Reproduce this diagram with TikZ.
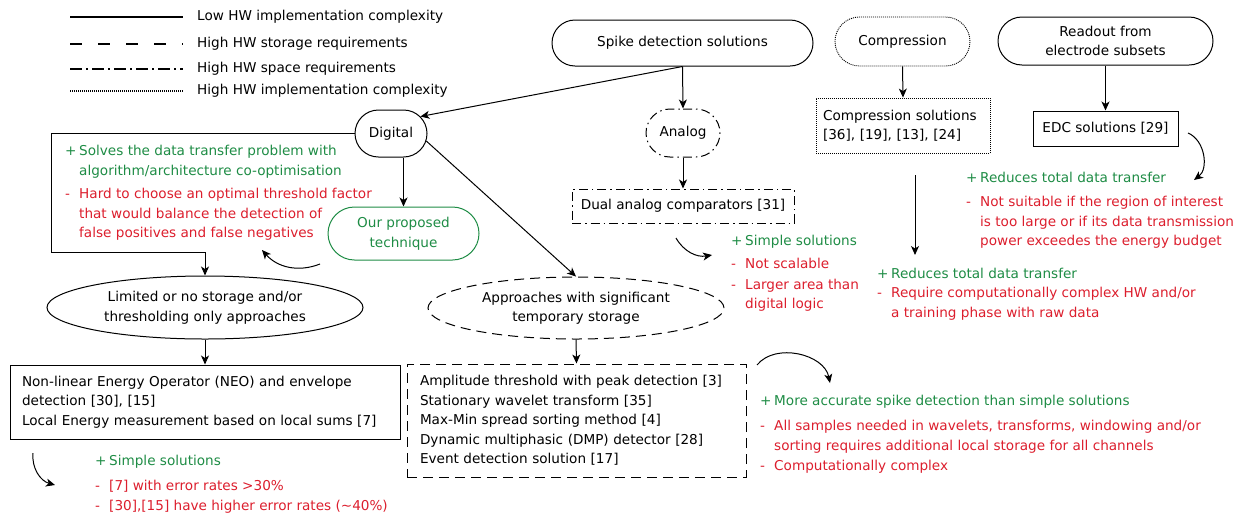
\documentclass[tikz,border=0pt]{standalone}
\usepackage{fontspec}
\setmainfont{DejaVu Sans}
\usepackage{tikz}
\usetikzlibrary{positioning,arrows.meta,shapes.geometric,shapes.misc}
\definecolor{progreen}{HTML}{1E8C45}
\definecolor{conred}{HTML}{DC1E2D}
\newcommand{\pl}{\makebox[14pt][l]{+}}
\newcommand{\mi}{\makebox[14pt][l]{-}}
\newcommand{\ind}{\hspace*{14pt}}
\tikzset{
    every node/.style={font=\fontsize{13.6}{19.5}\selectfont},
    every edge/.style={draw,solid,->,>={Stealth[length=9pt,width=8pt,inset=2.5pt]},line width=1pt},
    flow/.style={draw,->,>={Stealth[length=9pt,width=8pt,inset=2.5pt]},line width=1pt},
    term/.style={rounded rectangle,draw,line width=1pt,inner sep=2pt,align=center},
    oval/.style={ellipse,draw,line width=1pt,inner sep=0pt,align=center},
    block/.style={rectangle,draw,line width=1pt,align=left},
    storereq/.style={dash pattern=on 10pt off 6pt},
    spacereq/.style={dash pattern=on 9pt off 4pt on 1.5pt off 4pt},
    complexhw/.style={line width=0.9pt,dash pattern=on 1pt off 1pt},
    pro/.style={text=progreen,align=left,anchor=north west,inner sep=0pt},
    con/.style={text=conred,align=left,anchor=north west,inner sep=0pt},
    legtext/.style={anchor=west,inner sep=0pt},
    legline/.style={line width=2.4pt},
}

\begin{document}
\begin{tikzpicture}[x=1pt,y=-1pt]
    \useasboundingbox (0,0) rectangle (1247,515);

    % legend
    \node[legtext] (leglow) at (197,17) {Low HW implementation complexity};
    \node[legtext] (legstore) at (197,44) {High HW storage requirements};
    \node[legtext] (legspace) at (197,69) {High HW space requirements};
    \node[legtext] (leghigh) at (197,91) {High HW implementation complexity};
    \draw[legline] ([xshift=-127pt]leglow.west) -- ++(113,0);
    \draw[legline,dash pattern=on 12pt off 16pt] ([xshift=-127pt]legstore.west) -- ++(113,0);
    \draw[legline,dash pattern=on 12pt off 4pt on 2pt off 4pt] ([xshift=-127pt]legspace.west) -- ++(113,0);
    \draw[line width=1.5pt,dash pattern=on 1pt off 1pt] ([xshift=-127pt]leghigh.west) -- ++(113,0);

    % top level
    \node[term,minimum width=265pt,minimum height=46pt] (spike) at (682.5,43) {Spike detection solutions};
    \node[term,complexhw,minimum width=139pt,minimum height=49pt] (compr) at (902.5,41.5) {Compression};
    \node[term,minimum width=219pt,minimum height=48pt] (readout) at (1105.5,41) {Readout from\\electrode subsets};

    \node[term,minimum width=76pt,minimum height=47pt] (digital) at (391,133.5) {Digital};
    \node[term,spacereq,minimum width=78pt,minimum height=48pt] (analog) at (683,133) {Analog};
    \node[block,spacereq,minimum width=222pt,minimum height=34pt,align=center] (dual) at (683,206) {Dual analog comparators [31]};
    \node[block,complexhw,text width=160pt,inner xsep=7pt,minimum height=55pt] (comprsol) at (903,125.5) {Compression solutions\\{[36], [19], [13], [24]}};
    \node[block,minimum width=145pt,minimum height=35pt,align=center] (edc) at (1105.5,128.5) {EDC solutions [29]};

    \node[term,draw=progreen,text=progreen,minimum width=155pt,minimum height=53pt] (ours) at (403.5,233.5) {Our proposed\\technique};
    \node[oval,minimum width=316pt,minimum height=63pt] (limited) at (205,307.5) {Limited or no storage and/or\\thresholding only approaches};
    \node[oval,storereq,minimum width=296pt,minimum height=62pt] (approach) at (576,308) {Approaches with significant\\temporary storage};

    \node[block,text width=366pt,inner xsep=12pt,minimum height=74pt] (neo) at (205,402) {Non-linear Energy Operator (NEO) and envelope\\detection [30], [15]\\Local Energy measurement based on local sums [7]};
    \node[block,storereq,text width=313pt,inner xsep=13pt,minimum height=113pt] (temp) at (576.5,420.5) {Amplitude threshold with peak detection [3]\\Stationary wavelet transform [35]\\Max-Min spread sorting method [4]\\Dynamic multiphasic (DMP) detector [28]\\Event detection solution [17]};

    % pros and cons
    \node[pro] (digpro) at (65,145) {\pl Solves the data transfer problem with\\\ind algorithm/architecture co-optimisation};
    \node[con] (digcon) at (65,188) {\mi Hard to choose an optimal threshold factor\\\ind that would balance the detection of\\\ind false positives and false negatives};
    \node[pro] (anapro) at (731,235) {\pl Simple solutions};
    \node[con] (anacon) at (731,258) {\mi Not scalable\\[1pt]\mi Larger area than\\\ind digital logic};
    \node[pro] (edcpro) at (966,172) {\pl Reduces total data transfer};
    \node[con] (edccon) at (966,196) {\mi Not suitable if the region of interest\\\ind is too large or if its data transmission\\\ind power exceedes the energy budget};
    \node[pro] (cmppro) at (877,268) {\pl Reduces total data transfer};
    \node[con] (cmpcon) at (877,287) {\mi Require computationally complex HW and/or\\\ind a training phase with raw data};
    \node[pro] (neopro) at (95,455) {\pl Simple solutions};
    \node[con] (neocon) at (95,480) {\mi [7] with error rates >30\%\\\mi [30],[15] have higher error rates (\textasciitilde40\%)};
    \node[pro] (tmppro) at (760,395) {\pl More accurate spike detection than simple solutions};
    \node[con] (tmpcon) at (760,420) {\mi All samples needed in wavelets, transforms, windowing and/or\\\ind sorting requires additional local storage for all channels\\[1pt]\mi Computationally complex};

    % free ends of the side arrows
    \coordinate (oursout) at (320,264);
    \coordinate (digin) at (262,250);
    \coordinate (dualout) at (676,238);
    \coordinate (anain) at (712,255);
    \coordinate (edcout) at (1188,133);
    \coordinate (edcin) at (1194,180);
    \coordinate (neoout) at (33,453);
    \coordinate (neoin) at (55,485);
    \coordinate (tempout) at (757,365);
    \coordinate (tempin) at (830,383);
    \coordinate (cmpout) at (915,175);
    \coordinate (cmpin) at (915,255);
    \coordinate (frame) at (51,252);

    \path
    (spike.south) edge (analog.north)
    (spike.south) edge (digital.30)
    (analog.south) edge (dual.north)
    (compr.south) edge (comprsol.north)
    (readout.south) edge (edc.north)
    (digital.south -| ours.north) edge (ours.north)
    (digital.-12) edge (approach.north)
    (limited.south) edge (neo.north)
    (approach.south) edge (temp.north)
    (cmpout) edge (cmpin)
    (oursout) edge[bend left=35] (digin)
    (dualout) edge[bend right=35] (anain)
    (edcout) edge[bend left=60] (edcin)
    (neoout) edge[bend right=40] (neoin)
    (tempout) edge[bend left=65] (tempin);
    \draw[flow] (digital.west) -| (frame) -| (limited.north);
\end{tikzpicture}
\end{document}
